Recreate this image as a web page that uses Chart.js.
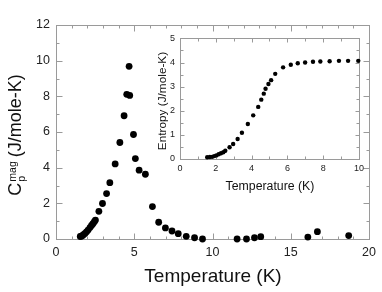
<!DOCTYPE html>
<html>
<head>
<meta charset="utf-8">
<script src="https://cdn.jsdelivr.net/npm/chart.js@4/dist/chart.umd.min.js"></script>
<style>
  body { margin: 0; background: #fff; }
  #wrap { position: relative; width: 382px; height: 292px; }
  #mainChart { position: absolute; left: 0; top: 0; }
  #insetChart { position: absolute; left: 140px; top: 28px; }
</style>
</head>
<body>
<div id="wrap">
  <canvas id="mainChart" width="382" height="292"></canvas>
  <canvas id="insetChart" width="228" height="170"></canvas>
</div>
<script>
// magnetic heat capacity vs temperature
const cpTemp = [1.55, 1.62, 1.7, 1.78, 1.86, 1.95, 2.05, 2.17, 2.27, 2.36, 2.45, 2.52,
  2.74, 2.97, 3.23, 3.44, 3.78, 4.08, 4.35, 4.52, 4.67, 4.71, 4.95, 5.07, 5.31, 5.71,
  6.16, 6.56, 6.99, 7.41, 7.81, 8.32, 8.85, 9.36, 11.57, 12.17, 12.68, 13.08, 16.09, 16.7, 18.7]
const cpValues = [0.14, 0.16, 0.2, 0.26, 0.32, 0.4, 0.5, 0.64, 0.76, 0.86, 0.97, 1.06,
  1.55, 1.99, 2.55, 3.16, 4.21, 5.41, 6.91, 8.11, 9.68, 8.05, 5.86, 4.51, 3.86, 3.63,
  1.82, 0.94, 0.62, 0.45, 0.3, 0.15, 0.07, 0.0, 0.0, 0.0, 0.07, 0.13, 0.11, 0.41, 0.19]

// entropy (inset)
const sTemp = [1.52, 1.67, 1.8, 1.91, 2.03, 2.16, 2.29, 2.42, 2.53, 2.77, 2.97, 3.22,
  3.46, 3.79, 4.09, 4.37, 4.54, 4.68, 4.78, 4.94, 5.09, 5.32, 5.76, 6.19, 6.58, 6.99,
  7.43, 7.84, 8.36, 8.88, 9.39, 9.96]
const sValues = [0.07, 0.08, 0.09, 0.12, 0.15, 0.2, 0.24, 0.28, 0.34, 0.49, 0.62, 0.83,
  1.09, 1.45, 1.81, 2.16, 2.46, 2.71, 2.91, 3.11, 3.27, 3.53, 3.8, 3.91, 3.97, 4.0,
  4.03, 4.04, 4.05, 4.07, 4.07, 4.07]

const mainXTicks = [0, 5, 10, 15, 20]
const mainYTicks = [0, 2, 4, 6, 8, 10, 12]
const insetXTicks = [0, 2, 4, 6, 8, 10]
const insetYTicks = [0, 1, 2, 3, 4, 5]

const FONT = "'Liberation Sans', Arial, Helvetica, sans-serif"
const FRAME = "#9a9a9a"

function toPoints(xs, ys) {
  return xs.map((x, i) => ({ x: x, y: ys[i] }))
}

function fixedTicks(list) {
  return scale => { scale.ticks = list.map(v => ({ value: v })) }
}

// frame + inward ticks on all four sides
const framePlugin = {
  id: "frame",
  beforeDatasetsDraw(chart, args, opts) {
    const ctx = chart.ctx
    const a = chart.chartArea
    const xs = chart.scales.x
    const ys = chart.scales.y
    const L = Math.round(a.left) + 0.5
    const R = Math.round(a.right) + 0.5
    const T = Math.round(a.top) + 0.5
    const B = Math.round(a.bottom) + 0.5
    ctx.save()
    ctx.strokeStyle = FRAME
    ctx.lineWidth = 1
    ctx.strokeRect(L, T, R - L, B - T)
    ctx.beginPath()
    const nx = Math.round((xs.max - xs.min) / opts.xMinor)
    for (let i = 0; i <= nx; i++) {
      const v = xs.min + i * opts.xMinor
      const px = Math.round(xs.getPixelForValue(v)) + 0.5
      const len = opts.xMajor.includes(v) ? opts.major : opts.minor
      ctx.moveTo(px, B); ctx.lineTo(px, B - len)
      ctx.moveTo(px, T); ctx.lineTo(px, T + len)
    }
    const ny = Math.round((ys.max - ys.min) / opts.yMinor)
    for (let i = 0; i <= ny; i++) {
      const v = ys.min + i * opts.yMinor
      const py = Math.round(ys.getPixelForValue(v)) + 0.5
      const len = opts.yMajor.includes(v) ? opts.major : opts.minor
      ctx.moveTo(L, py); ctx.lineTo(L + len, py)
      ctx.moveTo(R, py); ctx.lineTo(R - len, py)
    }
    ctx.stroke()
    ctx.restore()
  }
}

// axis titles (the y title needs a sub and superscript)
const titlePlugin = {
  id: "titles",
  afterDraw(chart, args, opts) {
    const ctx = chart.ctx
    ctx.save()
    ctx.fillStyle = "#111"
    ctx.textBaseline = "alphabetic"
    ctx.font = opts.size + "px " + FONT
    ctx.textAlign = "center"
    ctx.fillText(opts.xTitle, opts.xTitleX, opts.xTitleY)

    ctx.translate(opts.yTitleX, opts.yTitleY)
    ctx.rotate(-Math.PI / 2)
    ctx.textAlign = "left"
    let parts = opts.yParts
    let total = 0
    const widths = parts.map(p => {
      ctx.font = p.size + "px " + FONT
      return ctx.measureText(p.text).width
    })
    // sub/sup share one slot
    let w = 0
    for (let i = 0; i < parts.length; i++) {
      if (parts[i].pair) continue
      w += parts[i].slot ? Math.max(widths[i], widths[i + 1]) : widths[i]
    }
    let x = -w / 2
    for (let i = 0; i < parts.length; i++) {
      const p = parts[i]
      ctx.font = p.size + "px " + FONT
      ctx.fillText(p.text, x + (p.dx || 0), p.dy || 0)
      if (p.slot) { x += Math.max(widths[i], widths[i + 1]); i++; ctx.font = parts[i].size + "px " + FONT; ctx.fillText(parts[i].text, x - Math.max(widths[i - 1], widths[i]) + (parts[i].dx || 0), parts[i].dy || 0) }
      else x += widths[i]
    }
    ctx.restore()
  }
}

const tickFont = size => ({ family: FONT, size: size })

new Chart(document.getElementById("mainChart"), {
  type: "scatter",
  data: {
    datasets: [{
      data: toPoints(cpTemp, cpValues),
      backgroundColor: "#000",
      borderColor: "#000",
      pointRadius: 3.4,
      borderWidth: 0,
      clip: false
    }]
  },
  options: {
    responsive: false,
    animation: false,
    layout: { padding: { left: 0, top: 25, right: 12, bottom: 0 } },
    plugins: {
      legend: { display: false },
      tooltip: { enabled: false },
      frame: { xMinor: 1, yMinor: 1, xMajor: mainXTicks, yMajor: mainYTicks, major: 6, minor: 3 },
      titles: {
        size: 19, xTitle: "Temperature (K)", xTitleX: 213, xTitleY: 282,
        yTitleX: 21, yTitleY: 132,
        yParts: [
          { text: "C", size: 18 },
          { text: "mag", size: 10.5, dy: -5, dx: 1, slot: true },
          { text: "p", size: 10.5, dy: 4, dx: 1 },
          { text: " (J/mole-K)", size: 18 }
        ]
      }
    },
    scales: {
      x: {
        type: "linear", min: 0, max: 20,
        afterBuildTicks: fixedTicks(mainXTicks),
        afterFit: s => { s.height = 53 },
        grid: { display: false, drawTicks: false },
        border: { display: false },
        ticks: { padding: 6, color: "#222", font: tickFont(12.5), maxRotation: 0 }
      },
      y: {
        type: "linear", min: 0, max: 12,
        afterBuildTicks: fixedTicks(mainYTicks),
        afterFit: s => { s.width = 56 },
        grid: { display: false, drawTicks: false },
        border: { display: false },
        ticks: { padding: 6, color: "#222", font: tickFont(12.5) }
      }
    }
  },
  plugins: [framePlugin, titlePlugin]
})

new Chart(document.getElementById("insetChart"), {
  type: "scatter",
  data: {
    datasets: [{
      data: toPoints(sTemp, sValues),
      backgroundColor: "#000",
      borderColor: "#000",
      pointRadius: 2.2,
      borderWidth: 0,
      clip: false
    }]
  },
  options: {
    responsive: false,
    animation: false,
    layout: { padding: { left: 0, top: 8, right: 8, bottom: 0 } },
    plugins: {
      legend: { display: false },
      tooltip: { enabled: false },
      frame: { xMinor: 1, yMinor: 0.5, xMajor: insetXTicks, yMajor: insetYTicks, major: 4, minor: 3 },
      titles: {
        size: 12.3, xTitle: "Temperature (K)", xTitleX: 130, xTitleY: 162,
        yTitleX: 26, yTitleY: 73,
        yParts: [{ text: "Entropy (J/mole-K)", size: 11.8 }]
      }
    },
    scales: {
      x: {
        type: "linear", min: 0, max: 10,
        afterBuildTicks: fixedTicks(insetXTicks),
        afterFit: s => { s.height = 39 },
        grid: { display: false, drawTicks: false },
        border: { display: false },
        ticks: { padding: 4, color: "#222", font: tickFont(9), maxRotation: 0 }
      },
      y: {
        type: "linear", min: 0, max: 5,
        afterBuildTicks: fixedTicks(insetYTicks),
        afterFit: s => { s.width = 40 },
        grid: { display: false, drawTicks: false },
        border: { display: false },
        ticks: { padding: 5, color: "#222", font: tickFont(9) }
      }
    }
  },
  plugins: [framePlugin, titlePlugin]
})
</script>
</body>
</html>
